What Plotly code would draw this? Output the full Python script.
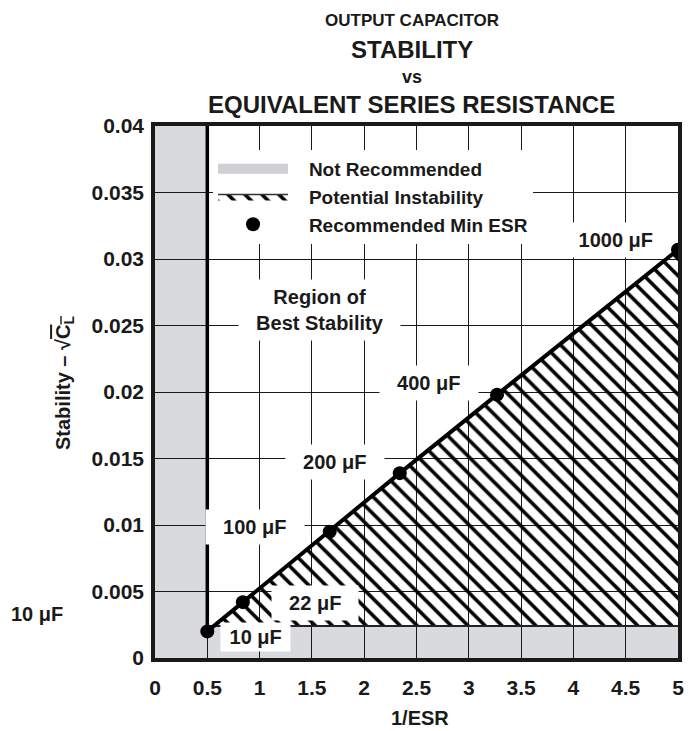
import plotly.graph_objects as go

# ---------------- data ----------------
esr_inv = [0.5, 0.84, 1.67, 2.34, 3.27, 5.0]          # 1/ESR of recommended min ESR points
stability = [0.0020, 0.0042, 0.0095, 0.0139, 0.0198, 0.0307]  # sqrt(C_L)
cap_labels = ["10 μF", "22 μF", "100 μF", "200 μF", "400 μF", "1000 μF"]

x_tickvals = [0, 0.5, 1, 1.5, 2, 2.5, 3, 3.5, 4, 4.5, 5]
x_ticktext = ["0", "0.5", "1", "1.5", "2", "2.5", "3", "3.5", "4", "4.5", "5"]
y_tickvals = [0, 0.005, 0.01, 0.015, 0.02, 0.025, 0.03, 0.035, 0.04]
y_ticktext = ["0", "0.005", "0.01", "0.015", "0.02", "0.025", "0.03", "0.035", "0.04"]

not_rec_esr_max = 0.5      # 1/ESR below which is not recommended
not_rec_stab_floor = 0.0024  # stability below which is not recommended
x_max = 5
y_max = 0.04

# label anchor positions (data coords)
label_x = [0.956, 1.525, 0.956, 1.72, 2.62, 4.41]
label_y = [0.00158, 0.00414, 0.00985, 0.01474, 0.0207, 0.0314]

FONT = "Liberation Sans, Arial, Helvetica, sans-serif"
GRAY = "#d9dadd"
INK = "#1a1a1a"
SP = "&nbsp;&nbsp;&nbsp;"

fig = go.Figure()

# legend proxy for the not-recommended area (lies outside the visible range)
fig.add_trace(go.Scatter(
    x=[-2, -1], y=[-1, -1], mode="lines",
    line=dict(color="#cfd0d3", width=12),
    name=SP + "Not Recommended", hoverinfo="skip"))

fig.add_trace(go.Scatter(
    x=[not_rec_esr_max, x_max], y=[not_rec_stab_floor, not_rec_stab_floor],
    mode="lines", line=dict(color="#222222", width=2), showlegend=False,
    hoverinfo="skip"))

fig.add_trace(go.Scatter(
    x=esr_inv, y=stability, mode="lines", fill="tonexty",
    fillcolor="black",
    fillpattern=dict(shape="\\", size=12, solidity=0.3, fgcolor="black",
                     fgopacity=1, bgcolor="rgba(0,0,0,0)", fillmode="replace"),
    line=dict(color="#333333", width=1.5), name=SP + "Potential Instability"))

fig.add_trace(go.Scatter(
    x=esr_inv, y=stability, mode="lines",
    line=dict(color="black", width=4), showlegend=False))

fig.add_trace(go.Scatter(
    x=esr_inv, y=stability, mode="markers",
    marker=dict(color="black", size=14), name=SP + "Recommended Min ESR"))

# not recommended regions (below grid)
fig.add_shape(type="rect", xref="x", yref="y", x0=0, x1=not_rec_esr_max,
              y0=0, y1=y_max, fillcolor=GRAY, line=dict(width=0), layer="below")
fig.add_shape(type="rect", xref="x", yref="y", x0=not_rec_esr_max, x1=x_max,
              y0=0, y1=not_rec_stab_floor, fillcolor=GRAY, line=dict(width=0),
              layer="below")
fig.add_shape(type="line", xref="x", yref="y", x0=not_rec_esr_max,
              x1=not_rec_esr_max, y0=stability[0], y1=y_max,
              line=dict(color="black", width=3.5), layer="above")

ann_font = dict(family=FONT, size=20, color=INK, weight="bold")
annotations = []
pads = [("&nbsp;", 3), ("&nbsp;&nbsp;", 6), ("&nbsp;&nbsp;", 6),
        ("&nbsp;&nbsp;", 6), ("&nbsp;&nbsp;", 6), ("&nbsp;", 6)]
for lab, lx, ly, (sp, bp) in zip(cap_labels, label_x, label_y, pads):
    annotations.append(dict(x=lx, y=ly, xref="x", yref="y", text=sp + lab + sp,
                            showarrow=False, bgcolor="white", borderpad=bp,
                            font=ann_font, xanchor="center", yanchor="middle"))

annotations.append(dict(x=1.568, y=0.02617, xref="x", yref="y",
                        text="&nbsp;&nbsp;Region of&nbsp;&nbsp;<br>&nbsp;&nbsp;Best Stability&nbsp;&nbsp;",
                        showarrow=False, bgcolor="white", borderpad=6,
                        font=ann_font, xanchor="center", yanchor="middle"))

# left-side 10 uF marker label
annotations.append(dict(x=-0.2256, y=0.0827, xref="paper", yref="paper",
                        text=cap_labels[0], showarrow=False, font=ann_font,
                        xanchor="center", yanchor="middle"))

# titles
title_lines = [("OUTPUT CAPACITOR", 17, 1.199), ("STABILITY", 24, 1.143),
               ("vs", 18, 1.092), ("EQUIVALENT SERIES RESISTANCE", 24, 1.040)]
for txt, sz, yy in title_lines:
    annotations.append(dict(x=0.491, y=yy, xref="paper", yref="paper", text=txt,
                            showarrow=False,
                            font=dict(family=FONT, size=sz, color=INK, weight="bold"),
                            xanchor="center", yanchor="middle"))

annotations.append(dict(x=0.507, y=-0.113, xref="paper", yref="paper", text="1/ESR",
                        showarrow=False, font=dict(family=FONT, size=20, color=INK, weight="bold"),
                        xanchor="center", yanchor="middle"))
annotations.append(dict(x=-0.172, y=0.517, xref="paper", yref="paper",
                        text="Stability – √<span style='text-decoration:overline'>C<sub>L</sub></span>",
                        textangle=-90, showarrow=False,
                        font=dict(family=FONT, size=20, color=INK, weight="bold"),
                        xanchor="center", yanchor="middle"))

tick_font = dict(family=FONT, size=21, color=INK, weight="bold")
fig.update_layout(
    width=689, height=723,
    margin=dict(l=147, r=19, t=118, b=73),
    paper_bgcolor="white", plot_bgcolor="white",
    font=dict(family=FONT, color=INK),
    annotations=annotations,
    showlegend=True,
    legend=dict(x=0.111, y=0.955, xanchor="left", yanchor="top", bgcolor="white",
                font=dict(family=FONT, size=19, color=INK, weight="bold"),
                itemwidth=70, traceorder="normal", borderwidth=0),
    xaxis=dict(range=[0, x_max], tickvals=x_tickvals, ticktext=x_ticktext,
               showgrid=True, gridcolor=INK, gridwidth=1.2, zeroline=False,
               showline=True, linecolor=INK, linewidth=3.5, mirror=True,
               ticks="", tickfont=tick_font, ticklabelstandoff=8, fixedrange=True),
    yaxis=dict(range=[0, y_max], tickvals=y_tickvals, ticktext=y_ticktext,
               showgrid=True, gridcolor=INK, gridwidth=1.2, zeroline=False,
               showline=True, linecolor=INK, linewidth=3.5, mirror=True,
               ticks="", tickfont=tick_font, ticklabelstandoff=3, fixedrange=True),
)

fig.write_html("out.html")
